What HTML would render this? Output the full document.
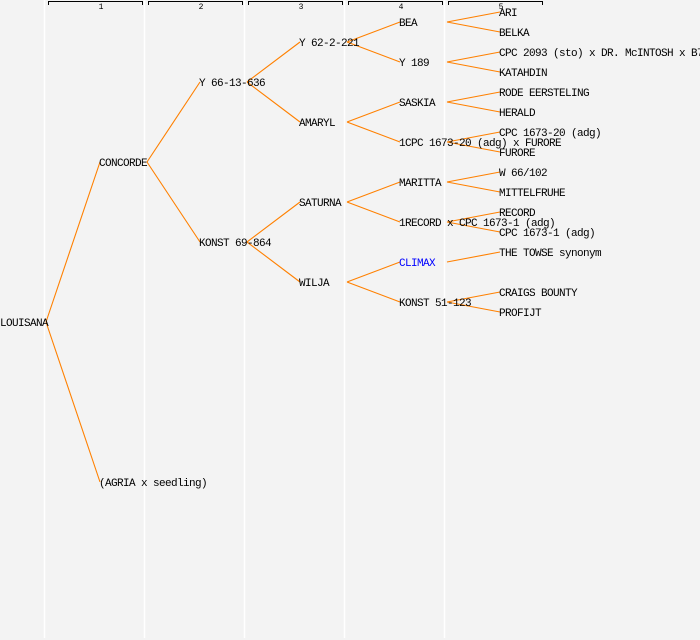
<!DOCTYPE html>
<html><head><meta charset="utf-8"><style>
html,body{margin:0;padding:0;background:#f3f3f3;}
svg{display:block}
text{font-family:"Liberation Mono","DejaVu Sans Mono",monospace;font-size:11px;letter-spacing:-0.6px;fill:#000;dominant-baseline:middle}
</style></head><body>
<svg width="700" height="640" xmlns="http://www.w3.org/2000/svg">
<rect width="700" height="640" fill="#f3f3f3"/>
<g stroke="#ffffff" stroke-width="1.5">
<line x1="44.5" y1="0" x2="44.5" y2="638"/><line x1="144.5" y1="0" x2="144.5" y2="638"/>
<line x1="244.5" y1="0" x2="244.5" y2="638"/><line x1="344.5" y1="0" x2="344.5" y2="638"/>
<line x1="444.5" y1="0" x2="444.5" y2="638"/>
</g>
<g stroke="#000" stroke-width="1" fill="none">
<path d="M48.5,5 V1.5 H142.5 V5"/><path d="M148.5,5 V1.5 H242.5 V5"/><path d="M248.5,5 V1.5 H342.5 V5"/>
<path d="M348.5,5 V1.5 H442.5 V5"/><path d="M448.5,5 V1.5 H542.5 V5"/>
</g>
<text x="101" y="7" text-anchor="middle" style="font-size:8px;letter-spacing:0">1</text><text x="201" y="7" text-anchor="middle" style="font-size:8px;letter-spacing:0">2</text><text x="301" y="7" text-anchor="middle" style="font-size:8px;letter-spacing:0">3</text><text x="401" y="7" text-anchor="middle" style="font-size:8px;letter-spacing:0">4</text><text x="501" y="7" text-anchor="middle" style="font-size:8px;letter-spacing:0">5</text>
<g stroke="#ff8000" stroke-width="1.1" fill="none">
<path d="M46,322 L100,162 M46,322 L100,482"/>
<path d="M147,162 L200,82 M147,162 L200,242"/>
<path d="M247,82 L300,42 M247,82 L300,122 M247,242 L300,202 M247,242 L300,282"/>
<path d="M347,42 L400,22 M347,42 L400,62 M347,122 L400,102 M347,122 L400,142 M347,202 L400,182 M347,202 L400,222 M347,282 L400,262 M347,282 L400,302"/>
<path d="M447,22 L500,12 M447,22 L500,32 M447,62 L500,52 M447,62 L500,72 M447,102 L500,92 M447,102 L500,112 M447,142 L500,132 M447,142 L500,152 M447,182 L500,172 M447,182 L500,192 M447,222 L500,212 M447,222 L500,232 M447,262 L500,252 M447,302 L500,292 M447,302 L500,312"/>
</g>
<g transform="translate(0,1)">
<text x="0" y="322">LOUISANA</text>
<text x="99" y="162">CONCORDE</text>
<text x="99" y="482">(AGRIA x seedling)</text>
<text x="199" y="82">Y 66-13-636</text>
<text x="199" y="242">KONST 69-864</text>
<text x="299" y="42">Y 62-2-221</text>
<text x="299" y="122">AMARYL</text>
<text x="299" y="202">SATURNA</text>
<text x="299" y="282">WILJA</text>
<text x="399" y="22">BEA</text>
<text x="399" y="62">Y 189</text>
<text x="399" y="102">SASKIA</text>
<text x="399" y="142">1CPC 1673-20 (adg) x FURORE</text>
<text x="399" y="182">MARITTA</text>
<text x="399" y="222">1RECORD x CPC 1673-1 (adg)</text>
<text x="399" y="262" style="fill:#0000ff">CLIMAX</text>
<text x="399" y="302">KONST 51-123</text>
<text x="499" y="12">ARI</text>
<text x="499" y="32">BELKA</text>
<text x="499" y="52">CPC 2093 (sto) x DR. McINTOSH x B7</text>
<text x="499" y="72">KATAHDIN</text>
<text x="499" y="92">RODE EERSTELING</text>
<text x="499" y="112">HERALD</text>
<text x="499" y="132">CPC 1673-20 (adg)</text>
<text x="499" y="152">FURORE</text>
<text x="499" y="172">W 66/102</text>
<text x="499" y="192">MITTELFRUHE</text>
<text x="499" y="212">RECORD</text>
<text x="499" y="232">CPC 1673-1 (adg)</text>
<text x="499" y="252">THE TOWSE synonym</text>
<text x="499" y="292">CRAIGS BOUNTY</text>
<text x="499" y="312">PROFIJT</text>
</g>
</svg>
</body></html>
